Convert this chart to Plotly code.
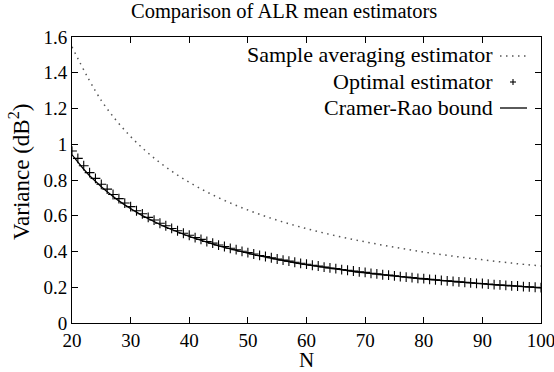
import plotly.graph_objects as go

N_all = list(range(20, 101))

# Cramer-Rao bound
crb = [0.941, 0.899, 0.860, 0.824, 0.792, 0.762, 0.734, 0.707, 0.683, 0.661,
       0.639, 0.620, 0.601, 0.583, 0.567, 0.551, 0.536, 0.522, 0.509, 0.496,
       0.484, 0.473, 0.462, 0.451, 0.441, 0.432, 0.423, 0.414, 0.406, 0.397,
       0.390, 0.382, 0.375, 0.368, 0.361, 0.355, 0.349, 0.343, 0.337, 0.331,
       0.326, 0.321, 0.316, 0.311, 0.306, 0.301, 0.297, 0.293, 0.288, 0.284,
       0.280, 0.276, 0.273, 0.269, 0.265, 0.262, 0.258, 0.255, 0.252, 0.249,
       0.246, 0.243, 0.240, 0.237, 0.234, 0.231, 0.229, 0.226, 0.224, 0.221,
       0.219, 0.216, 0.214, 0.212, 0.210, 0.207, 0.205, 0.203, 0.201, 0.199,
       0.197]

# Optimal estimator (one point per N)
optimal = [0.962, 0.921, 0.880, 0.841, 0.809, 0.776, 0.749, 0.719, 0.696, 0.671,
           0.651, 0.628, 0.611, 0.591, 0.576, 0.558, 0.544, 0.529, 0.516, 0.502,
           0.491, 0.478, 0.468, 0.456, 0.447, 0.436, 0.428, 0.418, 0.410, 0.401,
           0.394, 0.386, 0.378, 0.372, 0.365, 0.358, 0.352, 0.346, 0.340, 0.334,
           0.329, 0.323, 0.319, 0.313, 0.308, 0.304, 0.299, 0.295, 0.291, 0.286,
           0.283, 0.278, 0.275, 0.270, 0.268, 0.264, 0.260, 0.257, 0.254, 0.250,
           0.248, 0.244, 0.242, 0.238, 0.236, 0.233, 0.230, 0.228, 0.225, 0.222,
           0.221, 0.218, 0.215, 0.213, 0.211, 0.208, 0.207, 0.204, 0.202, 0.200,
           0.198]

# Sample averaging estimator
N_sample = [20, 25, 30, 35, 40, 45, 50, 55, 60, 65, 70, 75, 80, 85, 90, 95, 100]
sample = [1.545, 1.245, 1.043, 0.897, 0.787, 0.701, 0.632, 0.575, 0.528, 0.488,
          0.454, 0.424, 0.397, 0.374, 0.354, 0.335, 0.319]

x_ticks = [20, 30, 40, 50, 60, 70, 80, 90, 100]
y_ticks = [0, 0.2, 0.4, 0.6, 0.8, 1, 1.2, 1.4, 1.6]

legend_names = ["Sample averaging estimator", "Optimal estimator", "Cramer-Rao bound"]
title_text = "Comparison of ALR mean estimators"

FONT = "'Liberation Serif', 'Times New Roman', 'DejaVu Serif', serif"

fig = go.Figure()
fig.add_trace(go.Scatter(x=N_sample, y=sample, mode="lines", line_shape="spline",
                         line=dict(color="#555555", width=1.5, dash="1.5px,4.5px"),
                         name=legend_names[0], showlegend=False))
fig.add_trace(go.Scatter(x=N_all, y=crb, mode="lines",
                         line=dict(color="black", width=1.3),
                         name=legend_names[2], showlegend=False))
fig.add_trace(go.Scatter(x=N_all, y=optimal, mode="markers",
                         marker=dict(symbol="cross-thin", size=7,
                                     line=dict(color="black", width=1.1)),
                         name=legend_names[1], showlegend=False))

axis_common = dict(showline=True, linecolor="black", linewidth=1, mirror="allticks",
                   ticks="inside", ticklen=6, tickcolor="black", tickwidth=1,
                   showgrid=False, zeroline=False, ticklabeloverflow="allow",
                   automargin=False,
                   tickfont=dict(family=FONT, size=19, color="black"))

fig.update_xaxes(range=[20, 100], tickvals=x_ticks, **axis_common)
fig.update_yaxes(range=[0, 1.6], tickvals=y_ticks, **axis_common)

W, H = 554, 372
L, R, T, B = 72, 13, 37, 49
pw, ph = W - L - R, H - T - B

def px(xp):
    return (xp - L) / pw

def py(yp):
    return (H - B - yp) / ph

annotations = [
    dict(text="N", x=0.5, y=py(360), xref="paper", yref="paper",
         showarrow=False, xanchor="center", yanchor="middle",
         font=dict(family=FONT, size=21, color="black")),
    dict(text="Variance (dB<sup>2</sup>)", x=px(20), y=py(172), xref="paper", yref="paper",
         showarrow=False, xanchor="center", yanchor="middle", textangle=-90,
         font=dict(family=FONT, size=23, color="black")),
    dict(text=title_text, x=px(284), y=1 + 25 / ph, xref="paper", yref="paper",
         showarrow=False, xanchor="center", yanchor="middle",
         font=dict(family=FONT, size=20.5, color="black")),
]
rows_y = [55, 81, 107]
for name, yy in zip(legend_names, rows_y):
    annotations.append(dict(text=name, x=px(495), y=py(yy), xref="paper", yref="paper",
                            showarrow=False, xanchor="right", yanchor="middle",
                            font=dict(family=FONT, size=22, color="black")))

shapes = [
    dict(type="line", xref="paper", yref="paper", x0=px(500), x1=px(527),
         y0=py(rows_y[0] + 1), y1=py(rows_y[0] + 1),
         line=dict(color="#555555", width=1.5, dash="1.5px,4.5px")),
    dict(type="line", xref="paper", yref="paper", x0=px(510), x1=px(516),
         y0=py(rows_y[1] + 1), y1=py(rows_y[1] + 1), line=dict(color="black", width=1.1)),
    dict(type="line", xref="paper", yref="paper", x0=px(513), x1=px(513),
         y0=py(rows_y[1] - 2), y1=py(rows_y[1] + 4), line=dict(color="black", width=1.1)),
    dict(type="line", xref="paper", yref="paper", x0=px(500), x1=px(527),
         y0=py(rows_y[2] + 1), y1=py(rows_y[2] + 1), line=dict(color="black", width=1.3)),
]

fig.update_layout(
    width=W, height=H,
    margin=dict(l=L, r=R, t=T, b=B, autoexpand=False),
    paper_bgcolor="white", plot_bgcolor="white",
    annotations=annotations, shapes=shapes,
    showlegend=False,
)

fig.write_html("out.html", config={"displayModeBar": False},
               post_script="document.body.style.margin='0px';document.body.style.overflow='hidden';")
